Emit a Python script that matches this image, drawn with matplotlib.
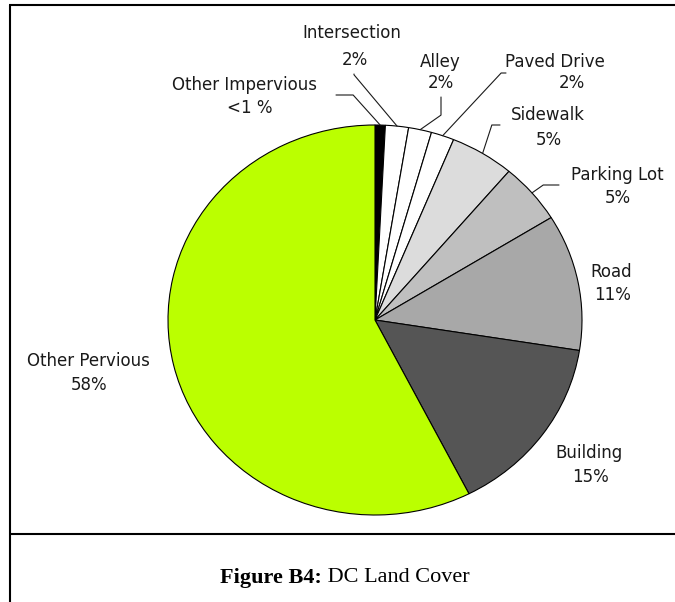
import matplotlib.pyplot as plt
import numpy as np

# land cover shares (read clockwise from 12 o'clock)
labels = ['Other Impervious', 'Intersection', 'Alley', 'Paved Drive', 'Sidewalk',
          'Parking Lot', 'Road', 'Building', 'Other Pervious']
pct_text = ['<1 %', '2%', '2%', '2%', '5%', '5%', '11%', '15%', '58%']
shares = [0.8, 1.8, 1.8, 1.8, 5.0, 5.0, 11.3, 15.0, 57.5]
colors = ['#000000', '#ffffff', '#ffffff', '#ffffff', '#dcdcdc',
          '#bfbfbf', '#a8a8a8', '#555555', '#bbff00']

# label layout in figure pixels (top-left origin): name x, name y, pct x, pct y
label_pos = {
    'Other Impervious': (245, 85, 250, 108),
    'Intersection': (352, 33, 355, 60),
    'Alley': (440, 62, 441, 83),
    'Paved Drive': (555, 62, 572, 83),
    'Sidewalk': (548, 115, 549, 140),
    'Parking Lot': (617, 175, 618, 198),
    'Road': (611, 272, 613, 295),
    'Building': (589, 453, 590, 477),
    'Other Pervious': (88, 361, 89, 385),
}
# leader lines: start point (pixels), angleA, angleB
leaders = {
    'Other Impervious': ((336, 95), 0, -48),
    'Intersection': ((354, 74), 90, -50),
    'Alley': ((441, 97), 90, 35),
    'Paved Drive': ((506, 73), 0, 47),
    'Sidewalk': ((500, 125), 0, 72),
    'Parking Lot': ((559, 185), 0, 35),
}

W, H = 675, 602
fig = plt.figure(figsize=(W / 100, H / 100), dpi=100)

# overlay in pixel coordinates for frame, labels and caption
ov = fig.add_axes([0, 0, 1, 1])
ov.set_xlim(0, W)
ov.set_ylim(H, 0)
ov.axis('off')
ov.patch.set_alpha(0)

# frame lines
ov.plot([9, W], [5, 5], color='black', lw=1.5, solid_capstyle='butt')
ov.plot([9.5, 9.5], [5, H], color='black', lw=1.5, solid_capstyle='butt')
ov.plot([9, W], [534, 534], color='black', lw=1.5, solid_capstyle='butt')

# pie, slightly wider than tall like the original
ax = fig.add_axes([168 / W, 87 / H, 414 / W, 390 / H])
wedges, _ = ax.pie(shares, colors=colors, startangle=90, counterclock=False,
                   radius=1, wedgeprops=dict(edgecolor='black', linewidth=0.8))
ax.set_aspect('auto')
ax.set_xlim(-1, 1)
ax.set_ylim(-1, 1)
ax.patch.set_alpha(0)

txt_kw = dict(ha='center', va='center', fontsize=12, color='#1a1a1a',
              family='DejaVu Sans')
for lab, pct, w in zip(labels, pct_text, wedges):
    nx, ny, px, py = label_pos[lab]
    ov.text(nx, ny, lab, **txt_kw)
    ov.text(px, py, pct, **txt_kw)
    if lab in leaders:
        (sx, sy), a, b = leaders[lab]
        mid = np.deg2rad((w.theta1 + w.theta2) / 2)
        ax.annotate('', xy=(np.cos(mid), np.sin(mid)), xycoords='data',
                    xytext=(sx, sy), textcoords=ov.transData,
                    arrowprops=dict(arrowstyle='-', color='#1a1a1a', lw=0.8,
                                    shrinkA=0, shrinkB=0,
                                    connectionstyle=f'angle,angleA={a},angleB={b},rad=0'))

# caption: bold prefix + regular text
cap_kw = dict(va='center', fontsize=16, family='Liberation Serif')
t1 = ov.text(220, 578, 'Figure B4:', fontweight='bold', ha='left', **cap_kw)
fig.canvas.draw()
bb = t1.get_window_extent()
x_end = ov.transData.inverted().transform((bb.x1, bb.y0))[0]
ov.text(x_end, 578, ' DC Land Cover', ha='left', **cap_kw)

fig.savefig('out.png', dpi=100)
